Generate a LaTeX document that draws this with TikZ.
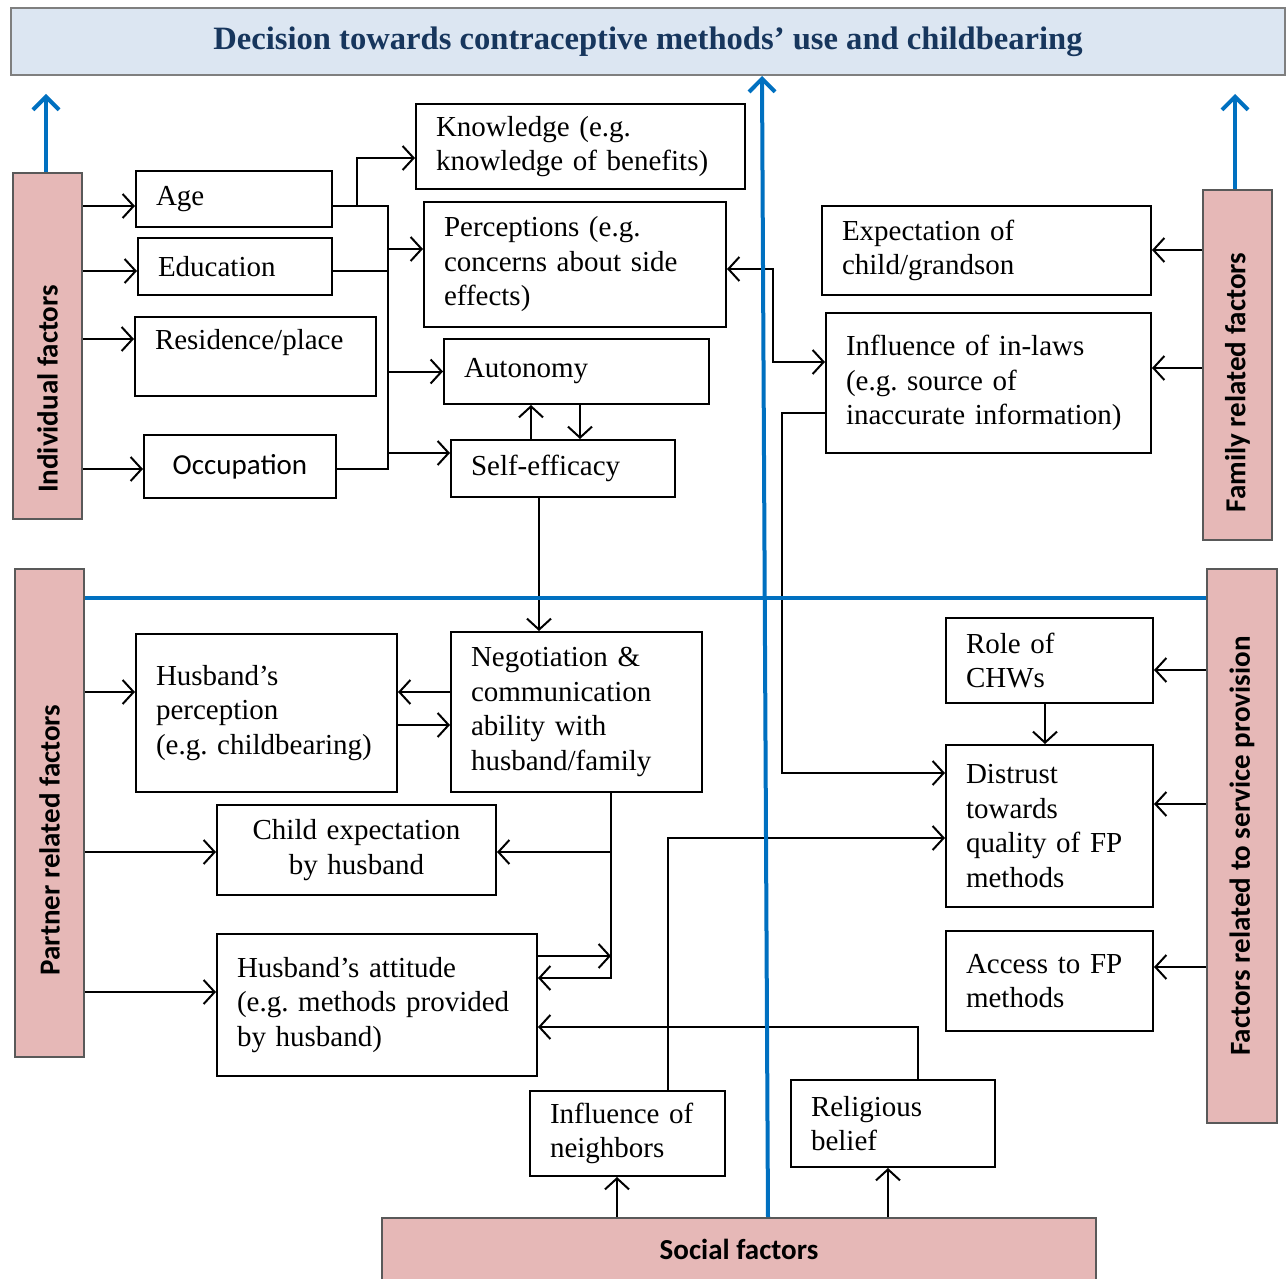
\documentclass[tikz,border=0pt]{standalone}
\usepackage{fontspec}
\setmainfont{Liberation Serif}
\newfontfamily\sansfont{Carlito}
\usetikzlibrary{arrows.meta}
\definecolor{barpink}{HTML}{E6B8B7}
\definecolor{bargray}{HTML}{595959}
\definecolor{titlefill}{HTML}{DCE6F2}
\definecolor{titlegray}{HTML}{7F7F7F}
\definecolor{titleblue}{HTML}{17365D}
\definecolor{lineblue}{HTML}{0070C0}
\newcommand{\sansbold}{\sansfont\bfseries\fontsize{14.5pt}{17pt}\selectfont}
\frenchspacing
\tikzset{
	fbox/.style={draw=black, line width=1pt, align=left, inner xsep=10pt, inner ysep=0pt, font={\fontsize{14.5pt}{17.25pt}\selectfont}},
	barbox/.style={draw=bargray, fill=barpink, line width=1pt, inner sep=0pt},
	bartext/.style={rotate=90, font=\sansbold},
	conn/.style={line width=1pt},
	arr/.style={conn, -{Straight Barb[length=5.5pt,width=12pt]}},
	arrboth/.style={conn, {Straight Barb[length=5.5pt,width=12pt]}-{Straight Barb[length=5.5pt,width=12pt]}},
	bluearr/.style={draw=lineblue, line width=2pt, -{Straight Barb[length=6.5pt,width=13pt]}},
	blueline/.style={draw=lineblue, line width=2pt}
}
\begin{document}
\begin{tikzpicture}[x=0.5pt, y=-0.5pt]
	\useasboundingbox (0,0) rectangle (1287,1279);
	\fill[white] (0,0) rectangle (1287,1279);
	% title
	\node[draw=titlegray, fill=titlefill, line width=1pt, minimum width=637pt, minimum height=33.5pt, text=titleblue, font={\bfseries\fontsize{16.3pt}{19pt}\selectfont}] (title) at (648,41.5) {Decision towards contraceptive methods’ use and childbearing};
	% factor bars
	\node[barbox, minimum width=34.5pt, minimum height=173pt] (indiv) at (47.5,346) {};
	\node[bartext] (indivtxt) at (47.5,389) {Individual factors};
	\node[barbox, minimum width=34.5pt, minimum height=175pt] (family) at (1237.5,365) {};
	\node[bartext] (familytxt) at (1237.5,382.5) {Family related factors};
	\node[barbox, minimum width=34.5pt, minimum height=244pt] (partner) at (49.5,813) {};
	\node[bartext] (partnertxt) at (49.5,840) {Partner related factors};
	\node[barbox, minimum width=35pt, minimum height=277pt] (service) at (1242,846) {};
	\node[bartext] (servicetxt) at (1242,846) {Factors related to service provision};
	\node[barbox, minimum width=357pt, minimum height=31pt, font=\sansbold] (social) at (739,1249) {Social factors};
	% individual
	\node[fbox, text width=78pt, minimum height=28pt] (age) at (234,199) {Age};
	\node[fbox, text width=77pt, minimum height=28.5pt] (edu) at (235,266.5) {Education};
	\node[fbox, text width=100.5pt, minimum height=39.5pt] (res) at (255.5,356.5) {Residence/place\\\mbox{}};
	\node[fbox, align=center, text width=76pt, minimum height=31.5pt, font={\sansfont\fontsize{14.5pt}{17.25pt}\selectfont}] (occ) at (240,466.5) {Occupation};
	\node[fbox, text width=144.5pt, minimum height=42.5pt] (know) at (580.5,146.5) {Knowledge (e.g.\\knowledge of benefits)};
	\node[fbox, text width=131pt, minimum height=62.5pt] (perc) at (575,264.5) {Perceptions (e.g.\\concerns about side\\effects)};
	\node[fbox, text width=112.5pt, minimum height=32.5pt] (autonomy) at (576.5,371.5) {Autonomy};
	\node[fbox, text width=92pt, minimum height=28.5pt] (self) at (563,468.5) {Self-efficacy};
	% family
	\node[fbox, text width=144.5pt, minimum height=44.5pt] (expc) at (986.5,250.5) {Expectation of\\child/grandson};
	\node[fbox, text width=142.5pt, minimum height=70pt] (infl) at (988.5,383) {Influence of in-laws\\(e.g. source of\\inaccurate information)};
	% service provision
	\node[fbox, text width=83.5pt, minimum height=42.5pt] (role) at (1049.5,660.5) {Role of\\CHWs};
	\node[fbox, text width=83.5pt, minimum height=81pt] (dist) at (1049.5,826) {Distrust\\towards\\quality of FP\\methods};
	\node[fbox, text width=83.5pt, minimum height=50pt] (access) at (1049.5,981) {Access to FP\\methods};
	% partner
	\node[fbox, text width=110.5pt, minimum height=79pt] (hper) at (266.5,713) {Husband’s\\perception\\(e.g. childbearing)};
	\node[fbox, text width=105.5pt, minimum height=80pt] (neg) at (576.5,712) {Negotiation \&\\communication\\ability with\\husband/family};
	\node[fbox, align=center, text width=119.5pt, minimum height=45pt] (childexp) at (356.5,850) {Child expectation\\by husband};
	\node[fbox, text width=140pt, minimum height=71pt] (att) at (377,1005) {Husband’s attitude\\(e.g. methods provided\\by husband)};
	% social
	\node[fbox, text width=77.5pt, minimum height=42.5pt] (neigh) at (627.5,1133.5) {Influence of\\neighbors};
	\node[fbox, text width=82pt, minimum height=43.5pt] (relig) at (893,1123.5) {Religious\\belief};

	% individual connectors
	\draw[arr] (indiv.east |- 0,206) -- (age.west |- 0,206);
	\draw[arr] (indiv.east |- 0,271) -- (edu.west |- 0,271);
	\draw[arr] (indiv.east |- 0,339) -- (res.west |- 0,339);
	\draw[arr] (indiv.east |- 0,469) -- (occ.west |- 0,469);
	\coordinate (bus) at (388,469);
	\coordinate (kbranch) at (357,206);
	\draw[conn] (age.east |- 0,206) -| (bus) -- (occ.east |- bus);
	\draw[conn] (edu.east |- 0,271) -- (bus |- 0,271);
	\draw[arr] (kbranch) |- (know.west |- 0,158);
	\draw[arr] (bus |- 0,249) -- (perc.west |- 0,249);
	\draw[arr] (bus |- autonomy.west) -- (autonomy.west);
	\draw[arr] (bus |- 0,453) -- (self.west |- 0,453);
	\draw[arr] (self.north -| 531,0) -- (autonomy.south -| 531,0);
	\draw[arr] (autonomy.south -| 580,0) -- (self.north -| 580,0);
	\draw[arr] (self.south -| 539,0) -- (neg.north -| 539,0);
	% family connectors
	\draw[arrboth] (perc.east |- 0,269) -| (773,362) -- (infl.west |- 0,362);
	\draw[arr] (infl.west |- 0,413) -| (782,773) -- (dist.west |- 0,773);
	\draw[arr] (family.west |- 0,250) -- (expc.east |- 0,250);
	\draw[arr] (family.west |- 0,368) -- (infl.east |- 0,368);
	% service connectors
	\draw[arr] (service.west |- 0,670) -- (role.east |- 0,670);
	\draw[arr] (service.west |- 0,804) -- (dist.east |- 0,804);
	\draw[arr] (service.west |- 0,967) -- (access.east |- 0,967);
	\draw[arr] (role.south -| 1045,0) -- (dist.north -| 1045,0);
	% partner connectors
	\draw[arr] (partner.east |- 0,692) -- (hper.west |- 0,692);
	\draw[arr] (partner.east |- 0,852) -- (childexp.west |- 0,852);
	\draw[arr] (partner.east |- 0,992) -- (att.west |- 0,992);
	\draw[arr] (neg.west |- 0,692) -- (hper.east |- 0,692);
	\draw[arr] (hper.east |- 0,725) -- (neg.west |- 0,725);
	\coordinate (negdown) at (611,978);
	\draw[arr] (neg.south -| negdown) -- (negdown) -- (att.east |- negdown);
	\draw[arr] (negdown |- 0,852) -- (childexp.east |- 0,852);
	\draw[arr] (att.east |- 0,956) -- (negdown |- 0,956);
	% social connectors
	\draw[arr] (social.north -| 617,0) -- (neigh.south -| 617,0);
	\draw[arr] (social.north -| 888,0) -- (relig.south -| 888,0);
	\draw[arr] (neigh.north -| 668,0) |- (dist.west |- 0,838);
	\draw[arr] (relig.north -| 918,0) |- (att.east |- 0,1027);
	% blue lines
	\draw[bluearr] (indiv.north -| 46,0) -- ++(0,-78);
	\draw[bluearr] (family.north -| 1235,0) -- ++(0,-95);
	\draw[bluearr] (social.north -| 768,0) -- (title.south -| 762,0);
	\draw[blueline] (partner.east |- 0,598) -- (service.west |- 0,598);
\end{tikzpicture}
\end{document}
